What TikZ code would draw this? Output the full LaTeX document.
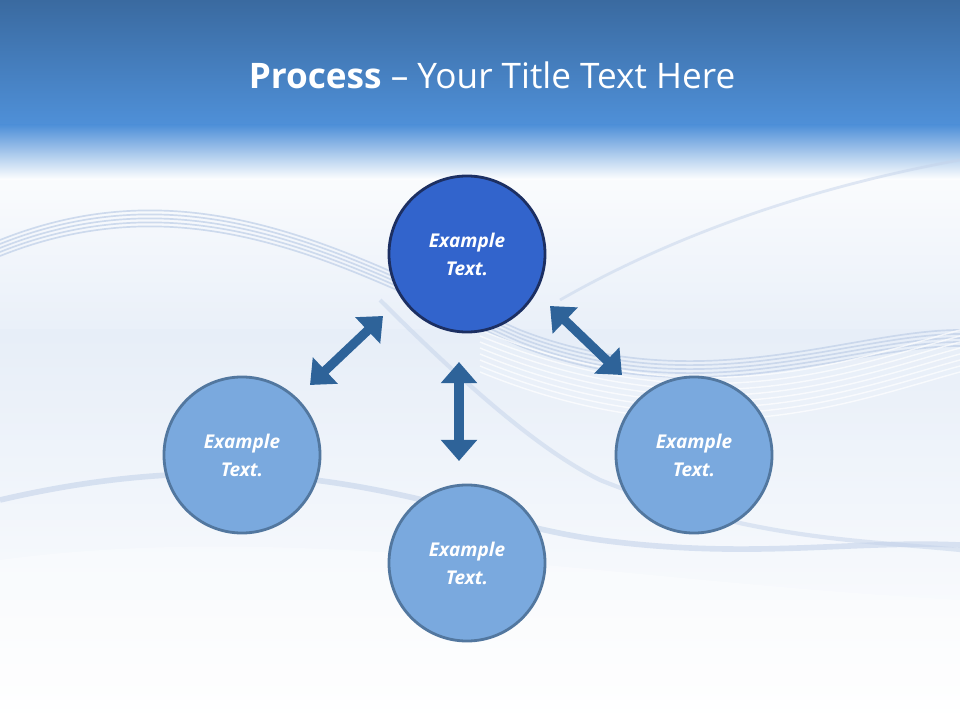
\documentclass[tikz,border=0pt]{standalone}
\usepackage{fontspec}
\setmainfont{Open Sans}
\usetikzlibrary{arrows.meta}
\definecolor{topdark}{HTML}{3A6AA0}
\definecolor{topmid}{HTML}{4F90D8}
\definecolor{bgpale}{HTML}{E4ECF7}
\definecolor{maincirc}{HTML}{3264CC}
\definecolor{maincircb}{HTML}{1C2F62}
\definecolor{subcirc}{HTML}{7AA9DE}
\definecolor{subcircb}{HTML}{52779F}
\definecolor{arr}{HTML}{2E6399}
\definecolor{wave}{HTML}{C4D3EA}
\tikzset{
  circ/.style={circle, minimum size=3.9cm, line width=2pt, inner sep=0pt, align=center,
    font=\fontsize{13.5}{20}\selectfont\bfseries\itshape, text=white},
  maincircle/.style={circ, fill=maincirc, draw=maincircb},
  subcircle/.style={circ, fill=subcirc, draw=subcircb},
  darr/.style={draw=arr, line width=6.5pt, {Triangle[length=15pt, width=25pt]}-{Triangle[length=15pt, width=25pt]}}
}
\begin{document}
\begin{tikzpicture}[x=0.025cm,y=-0.025cm]
\useasboundingbox (0,0) rectangle (960,720);
% background
\fill[bgpale] (0,0) rectangle (960,720);
\shade[top color=white, bottom color=bgpale!80] (0,130) rectangle (960,330);
\shade[top color=bgpale!90, bottom color=white] (0,330) rectangle (960,720);
\shade[top color=topdark, bottom color=topmid] (0,0) rectangle (960,125);
\shade[top color=topmid, bottom color=white] (0,125) rectangle (960,180);
% waves
\foreach \d in {0,4,8,12,16}{
  \draw[wave, line width=1.2pt, opacity=0.8] (0,240+\d) .. controls (200,160+\d) and (360,260+\d) .. (520,330+\d) .. controls (700,400+\d) and (850,330+\d) .. (960,330+\d);
}
\foreach \d in {0,6,12,18,24,30,36,42}{
  \draw[white, line width=1pt, opacity=0.7] (480,330+\d) .. controls (700,420+\d) and (850,360+\d) .. (960,330+\d);
}
\draw[wave, line width=4pt, opacity=0.6] (0,500) .. controls (300,430) and (450,520) .. (600,540) .. controls (750,560) and (850,540) .. (960,545);
\draw[wave, line width=3pt, opacity=0.5] (380,300) .. controls (500,420) and (560,460) .. (600,480) .. controls (750,540) and (860,540) .. (960,550);
\draw[wave, line width=2pt, opacity=0.5] (560,300) .. controls (700,220) and (850,180) .. (960,160);
\fill[white, opacity=0.35] (0,560) .. controls (300,520) and (600,580) .. (960,600) -- (960,720) -- (0,720) -- cycle;
% title
\node (title) at (492,75) {\color{white}\fontsize{25}{30}\selectfont\textbf{Process} -- Your Title Text Here};
% circles
\node[maincircle] (top) at (467,254) {Example\\Text.};
\node[subcircle] (left) at (242,455) {Example\\Text.};
\node[subcircle] (bottom) at (467,563) {Example\\Text.};
\node[subcircle] (right) at (694,455) {Example\\Text.};
% arrows
\coordinate (la) at (310,385); \coordinate (lb) at (383,316);
\coordinate (ra) at (550,306); \coordinate (rb) at (622,375);
\coordinate (ma) at (459,362); \coordinate (mb) at (459,461);
\draw[darr] (la) -- (lb);
\draw[darr] (ra) -- (rb);
\draw[darr] (ma) -- (mb);
\end{tikzpicture}
\end{document}
